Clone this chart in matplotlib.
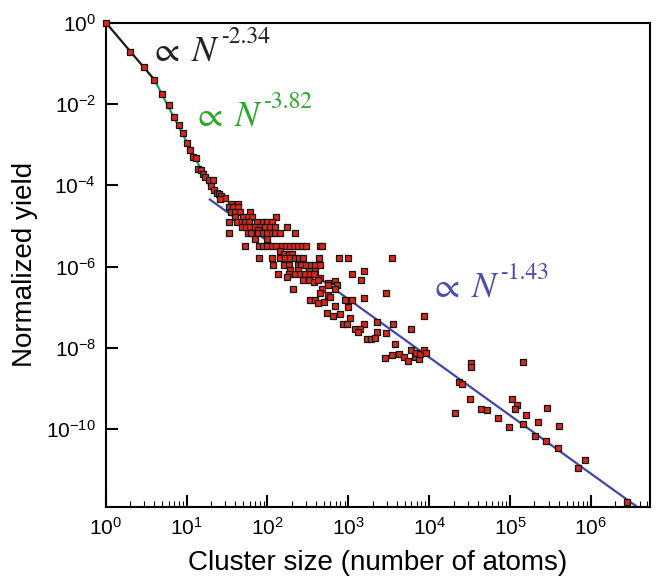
import numpy as np
import matplotlib.pyplot as plt
from matplotlib.ticker import LogLocator, FixedLocator, NullLocator, LogFormatterSciNotation

plt.rcParams['font.family'] = ['Liberation Sans', 'DejaVu Sans']

# small clusters (N = 1 .. 21), yields as log10
size_small = [1, 2, 3, 4, 5, 6, 7, 8, 9, 10, 11, 12, 13, 14, 15, 16, 17, 19, 21]
logy_small = [0.0, -0.72, -1.09, -1.41, -1.76, -2.03, -2.32, -2.52, -2.72, -2.96,
              -3.13, -3.31, -3.34, -3.59, -3.63, -3.73, -3.81, -3.87, -3.86]

# larger clusters: log10(N) and log10(yield)
logn_large = [
    1.30, 1.34, 1.37, 1.40, 1.43, 1.47, 1.41,
    1.55, 1.63, 1.52, 1.57, 1.64,
    1.55, 1.60, 1.66, 1.78,
    1.60, 1.70, 1.76, 1.81, 2.11,
    1.52, 1.62, 1.68, 1.72, 1.77, 1.87, 1.95, 1.99, 2.05,
    1.68, 1.74, 1.78, 1.85, 1.91, 1.97, 2.03, 2.09, 2.24,
    1.88,
    1.53, 1.76, 1.80, 1.88, 1.94, 2.00, 2.05, 2.09, 2.16, 2.34,
    1.85, 2.00,
    1.72, 1.89, 1.95, 2.00, 2.05, 2.11, 2.18, 2.23, 2.28, 2.33, 2.38, 2.43, 2.48, 2.65, 2.68,
    2.16, 2.21, 2.27, 2.30,
    1.90, 2.06, 2.16, 2.22, 2.28, 2.34, 2.39, 2.44, 2.64, 2.88, 2.99, 3.54,
    2.07, 2.20, 2.26, 2.38, 2.42, 2.48, 2.54, 2.59, 2.65,
    2.28, 2.38, 2.51, 2.59, 3.19,
    2.13, 2.26, 2.34, 2.40, 2.46, 2.53, 2.58, 3.04,
    2.24, 2.65,
    2.44, 2.51, 2.57, 2.63, 2.75, 2.84, 3.16,
    2.75, 2.86,
    2.32, 2.67, 2.84,
    2.65, 2.75, 3.47,
    2.53, 2.59, 2.63, 2.70, 2.77, 2.96, 3.04, 3.19,
    2.84, 3.00, 2.73, 2.81, 2.90, 3.02, 3.93,
    2.94, 2.98, 3.19, 3.35, 3.55,
    3.08, 3.14, 3.12, 3.35, 3.47, 3.77,
    3.23, 3.28, 3.33, 3.58,
    3.45, 3.54, 3.63, 3.69, 3.74, 3.78, 3.82, 3.84, 3.88, 3.89, 3.93, 3.96,
    4.52, 4.52, 5.16, 4.37, 4.41, 4.50, 4.32, 4.64, 4.72, 4.85, 4.99, 5.02,
    5.09, 5.06, 5.20, 5.16, 5.35, 5.46, 5.61, 5.31, 5.45, 5.59, 5.93, 5.84, 6.45,
]
logy_large = [
    -4.02, -4.12, -4.18, -4.22, -4.27, -4.32, -4.35,
    -4.46, -4.46, -4.54, -4.53, -4.53,
    -4.65, -4.65, -4.65, -4.65,
    -4.77, -4.77, -4.79, -4.79, -4.77,
    -4.90, -4.90, -4.90, -4.90, -4.90, -4.90, -4.90, -4.90, -4.90,
    -5.02, -5.02, -5.02, -5.02, -5.02, -5.02, -5.02, -5.02, -5.02,
    -5.10,
    -5.18, -5.18, -5.18, -5.18, -5.18, -5.18, -5.18, -5.18, -5.18, -5.18,
    -5.33, -5.33,
    -5.50, -5.50, -5.50, -5.50, -5.50, -5.50, -5.50, -5.50, -5.50, -5.50, -5.50, -5.50, -5.50, -5.50, -5.50,
    -5.62, -5.69, -5.69, -5.69,
    -5.80, -5.80, -5.80, -5.80, -5.80, -5.80, -5.80, -5.80, -5.80, -5.80, -5.80, -5.80,
    -5.96, -5.96, -5.96, -5.96, -5.96, -5.96, -5.96, -5.96, -5.96,
    -6.09, -6.09, -6.10, -6.10, -6.10,
    -6.19, -6.19, -6.19, -6.19, -6.19, -6.19, -6.19, -6.19,
    -6.25, -6.27,
    -6.33, -6.33, -6.37, -6.33, -6.40, -6.35, -6.33,
    -6.45, -6.45,
    -6.55, -6.56, -6.56,
    -6.66, -6.70, -6.66,
    -6.82, -6.82, -6.89, -6.86, -6.74, -6.82, -6.81, -6.78,
    -6.97, -7.00, -7.13, -7.22, -7.17, -7.27, -7.21,
    -7.42, -7.40, -7.41, -7.36, -7.40,
    -7.54, -7.54, -7.62, -7.60, -7.64, -7.54,
    -7.77, -7.77, -7.75, -7.91,
    -8.24, -8.18, -8.16, -8.23, -8.32, -8.04, -8.22, -8.13, -8.28, -8.16, -8.04, -8.13,
    -8.38, -8.48, -8.35, -8.83, -8.89, -9.26, -9.59, -9.51, -9.53, -9.73, -9.95, -9.25,
    -9.41, -9.51, -9.65, -9.88, -9.83, -9.48, -9.93, -10.16, -10.28, -10.46, -10.75, -10.94, -11.78,
]

# power-law fits: exponent, log10 prefactor, N range
fit_exp = [-2.34, -3.82, -1.43]
fit_logA = [0.0, 0.89, -2.51]
fit_range = [(1, 4), (4, 20), (10**1.288, 10**6.8)]
fit_color = ['#1a1a1a', '#1fa05a', '#4047a8']
text_color = ['#222222', '#2ca82c', '#4a4fae']
text_pos = [(3.45, 10**-0.93), (11.5, 10**-2.54), (1.0e4, 10**-6.74)]

n_all = np.concatenate([size_small, 10.0 ** np.array(logn_large)])
y_all = np.concatenate([10.0 ** np.array(logy_small), 10.0 ** np.array(logy_large)])

fig = plt.figure(figsize=(6.61, 5.88), dpi=100)
ax = fig.add_axes([0.160, 0.1378, 0.824, 0.8239])
ax.set_xscale('log')
ax.set_yscale('log')

for k in range(3):
    n = np.logspace(np.log10(fit_range[k][0]), np.log10(fit_range[k][1]), 100)
    ax.plot(n, 10 ** fit_logA[k] * n ** fit_exp[k], color=fit_color[k], lw=1.6, zorder=2)
    t = ax.text(text_pos[k][0], text_pos[k][1], r'$\propto\;N$',
                fontsize=26, color=text_color[k], math_fontfamily='stix')
    ax.annotate('%.2f' % fit_exp[k], xy=(1, 1), xycoords=t, xytext=(0.5, 5),
                textcoords='offset points', ha='left', va='top',
                fontsize=17, family='STIXGeneral', color=text_color[k])

ax.scatter(n_all, y_all, marker='s', s=22, c='#d8281c', edgecolors='#151515',
           linewidths=0.9, zorder=3, clip_on=False)

ax.set_xlim(1, 10 ** 6.736)
ax.set_ylim(10 ** -11.91, 1)

ax.xaxis.set_major_locator(LogLocator(base=10, numticks=12))
ax.xaxis.set_minor_locator(LogLocator(base=10, subs=np.arange(2, 10), numticks=12))
ax.xaxis.set_major_formatter(LogFormatterSciNotation())
ax.yaxis.set_major_locator(FixedLocator(10.0 ** np.arange(0, -11, -2)))
ax.yaxis.set_major_formatter(LogFormatterSciNotation())
ax.yaxis.set_minor_locator(NullLocator())

ax.tick_params(which='both', direction='in', top=False, right=False)
ax.tick_params(which='major', length=8.4, width=1.5, labelsize=15, pad=7)
ax.tick_params(which='minor', length=4.3, width=0.8)
for s in ax.spines.values():
    s.set_linewidth(1.5)

ax.set_xlabel('Cluster size (number of atoms)', fontsize=20, labelpad=8)
ax.set_ylabel('Normalized yield', fontsize=20, labelpad=6)

fig.savefig('out.png', dpi=100)
